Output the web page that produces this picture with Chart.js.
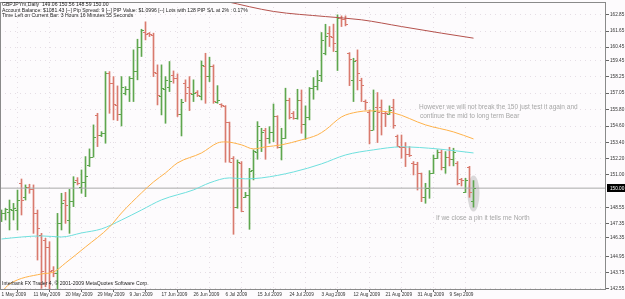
<!DOCTYPE html>
<html>
<head>
<meta charset="utf-8">
<script src="https://cdn.jsdelivr.net/npm/chart.js@4.4.0/dist/chart.umd.min.js"></script>
<style>
html, body { margin: 0; padding: 0; background: #fdfbfd; }
</style>
</head>
<body>
<canvas id="ohlcChart" width="625" height="299"></canvas>
<script>
// daily GBPJPY bars, 1 May 2009 .. mid Sep 2009 (Sunday bars included)
var opens = [147.76,148.13,148.26,148.38,148.38,150.41,149.37,150.06,149.91,148.13,
  146.53,146.15,145.66,143.93,143.73,147.44,149.12,147.64,149.05,150.61,
  150.11,150.48,151.72,152.34,155.43,153.94,154.12,158.52,157.78,156.17,
  155.48,157.04,157.33,158.15,158.72,160.50,161.61,161.49,161.36,158.52,
  156.84,157.33,157.53,158.40,158.15,155.50,157.78,157.53,156.99,157.16,
  156.86,159.02,158.32,159.02,156.42,156.24,156.10,154.88,152.21,148.63,
  151.84,149.37,149.49,151.35,152.71,153.57,154.32,153.70,154.19,155.35,
  153.08,153.72,156.54,155.55,155.18,156.54,154.76,155.30,157.41,157.58,
  158.40,160.00,161.49,161.24,160.20,162.60,162.53,160.00,158.03,159.51,
  158.03,156.49,155.68,154.32,156.05,156.05,155.60,155.48,156.05,153.87,
  153.08,153.08,152.53,151.84,151.79,151.10,149.37,149.99,151.10,152.21,
  152.71,151.60,152.34,152.14,151.84,150.66,149.74,151.60,149.06];
var highs = [148.38,148.50,149.12,148.87,149.86,150.68,150.24,150.29,150.24,148.38,
  146.65,146.28,146.03,144.18,148.13,149.62,149.69,149.91,150.85,150.78,
  151.35,152.34,152.91,154.69,155.55,154.19,158.64,158.64,158.27,157.58,
  158.27,157.53,158.27,160.25,161.04,161.78,162.33,161.54,161.49,159.14,
  159.14,158.27,159.39,158.69,158.47,156.59,158.03,158.27,158.03,157.23,
  159.43,160.00,159.71,159.14,157.60,156.26,156.12,154.90,152.34,152.09,
  151.97,149.69,151.47,152.84,154.93,154.44,154.44,154.56,156.24,155.37,
  154.44,157.41,156.67,155.68,157.33,157.28,156.10,157.46,158.20,158.72,
  161.54,162.15,161.98,162.16,162.85,162.77,162.77,160.05,159.63,160.25,
  158.15,156.54,155.80,157.28,157.09,156.54,155.68,156.10,156.59,153.94,
  153.94,153.38,153.08,151.97,151.92,151.12,150.36,151.30,152.46,152.84,
  152.84,152.71,153.03,152.96,151.97,150.73,150.73,151.62,150.56];
var lows = [147.52,147.64,146.90,147.64,146.90,148.01,149.12,149.62,146.65,144.67,
  142.57,142.69,142.50,143.43,142.48,146.90,147.39,146.65,148.63,150.24,
  149.62,149.37,151.60,152.30,153.08,153.82,153.33,155.55,155.06,155.01,
  154.61,156.91,156.42,156.42,158.03,159.76,160.99,161.24,158.27,156.17,
  155.43,154.81,157.16,157.78,155.31,153.87,156.42,155.75,156.42,156.79,
  156.54,156.29,157.90,156.29,156.29,156.00,151.92,151.92,146.58,148.51,
  148.26,149.30,146.95,150.61,152.14,152.71,152.14,153.33,153.45,152.96,
  152.09,153.68,155.13,155.11,155.11,154.07,153.62,155.06,156.59,157.28,
  157.90,159.88,160.50,160.13,158.72,161.98,162.03,157.60,156.42,157.28,
  156.42,155.80,153.28,154.30,153.38,153.94,154.56,155.46,154.44,153.08,
  152.22,151.60,152.34,150.98,149.86,149.00,148.88,149.25,151.08,152.19,
  151.35,151.10,151.65,151.65,150.24,150.16,149.67,149.32,148.59];
var closes = [148.13,148.43,148.43,148.50,149.12,149.12,150.06,149.91,148.13,147.02,
  143.88,145.66,143.88,143.73,147.44,148.87,148.75,149.05,150.48,150.36,
  150.48,150.93,152.34,153.82,153.94,154.07,158.57,157.83,156.22,155.48,
  157.53,157.33,158.15,158.72,160.50,161.69,161.41,161.41,158.64,156.91,
  157.41,158.03,157.95,158.15,155.50,156.42,157.04,157.04,157.08,156.91,
  159.14,158.32,159.02,156.49,156.54,156.17,154.93,151.97,148.58,151.92,
  148.31,149.49,151.30,152.76,154.61,154.19,153.70,154.19,155.35,153.08,
  153.72,156.54,155.25,155.18,156.54,154.76,155.30,157.41,157.58,158.03,
  161.00,161.29,161.29,160.79,162.60,162.53,162.18,159.56,159.39,158.57,
  157.65,156.42,154.32,155.75,155.68,155.55,155.55,155.80,154.69,153.13,
  153.03,152.53,152.46,151.77,151.10,149.37,149.99,151.10,152.21,152.71,
  151.60,152.34,152.14,152.71,150.41,150.61,150.61,149.74,150.00];

// moving averages, read at a few bars
var redMaIdx = [40, 56, 68, 81, 90, 100, 110, 118];
var redMaVal = [164.85, 163.85, 163.10, 162.72, 162.48, 161.98, 161.49, 161.12];
var orangeMaIdx = [0, 2, 10, 13, 16, 21, 27, 30, 35, 38, 41, 44, 50, 54, 56, 60, 63, 66, 70, 75, 79, 81, 85, 89, 92, 98, 106, 113, 118];
var orangeMaVal = [142.30, 142.89, 143.64, 143.78, 144.45, 145.64, 147.12, 148.16, 149.65, 150.46, 151.13, 151.87, 152.61, 153.35, 153.43, 153.21, 152.91, 153.06, 153.21, 153.58, 153.95, 154.32, 155.28, 155.65, 155.73, 155.58, 154.69, 154.17, 153.65];
var cyanMaIdx = [0, 5, 10, 15, 20, 25, 30, 35, 40, 48, 52, 57, 61, 65, 73, 80, 86, 93, 100, 109, 118];
var cyanMaVal = [146.23, 146.38, 146.46, 146.38, 146.68, 146.98, 147.64, 148.38, 149.13, 149.87, 150.39, 150.76, 150.69, 150.76, 151.20, 151.80, 152.46, 152.84, 153.06, 152.91, 152.61];

var dateTicks = [0, 8, 16, 24, 32, 40, 48, 56, 64, 72, 80, 88, 96, 104, 112];
var dateLabels = ['1 May 2009', '11 May 2009', '20 May 2009', '29 May 2009', '9 Jun 2009',
  '17 Jun 2009', '26 Jun 2009', '6 Jul 2009', '15 Jul 2009', '24 Jul 2009',
  '3 Aug 2009', '12 Aug 2009', '21 Aug 2009', '31 Aug 2009', '9 Sep 2009'];
var priceTicks = [162.85, 161.65, 160.45, 159.45, 158.25, 157.05, 155.80, 154.60, 153.40,
  152.20, 151.00, 148.55, 147.35, 146.35, 144.95, 143.75, 142.55];
var lastClose = 150.00;

var headerLines = [
  'GBPJPYm,Daily  149.06 150.56 148.59 150.00',
  'Account Balance: $1081.43 [--] Pip Spread: 9 [--] PIP Value: $1.0996 [--] Lots with 128 PIP S/L at 2% : 0.17%',
  'Time Left on Current Bar: 3 Hours 16 Minutes 55 Seconds'
];

var upColor = '#5ea64e';
var downColor = '#d97a6e';
var barColors = opens.map(function (o, i) { return closes[i] >= o ? upColor : downColor; });

function pts(idx, val) {
  return idx.map(function (x, k) { return { x: x, y: val[k] }; });
}

var xMin = -0.375, xMax = 151.125;

var bgPlugin = {
  id: 'bg',
  beforeDraw: function (chart) {
    var ctx = chart.ctx;
    ctx.save();
    ctx.fillStyle = '#fdfbfd';
    ctx.fillRect(0, 0, chart.width, chart.height);
    ctx.restore();
  },
  beforeDatasetsDraw: function (chart) {
    // grey highlight round the last bar
    var ctx = chart.ctx, x = chart.scales.x, y = chart.scales.y;
    ctx.save();
    ctx.fillStyle = 'rgba(205,205,205,0.75)';
    ctx.beginPath();
    ctx.ellipse(x.getPixelForValue(118), y.getPixelForValue(149.6), 6, 18, 0, 0, Math.PI * 2);
    ctx.fill();
    ctx.restore();
  }
};

var ohlcTicks = {
  id: 'ohlcTicks',
  afterDatasetsDraw: function (chart) {
    var x = chart.scales.x, y = chart.scales.y, ctx = chart.ctx;
    ctx.save();
    opens.forEach(function (o, i) {
      var px = Math.round(x.getPixelForValue(i) - 0.5);
      ctx.fillStyle = barColors[i];
      ctx.fillRect(px - 2, Math.round(y.getPixelForValue(o)), 2, 1);
      ctx.fillRect(px + 1, Math.round(y.getPixelForValue(closes[i])), 2, 1);
    });
    ctx.restore();
  }
};

var overlay = {
  id: 'overlay',
  afterDraw: function (chart) {
    var ctx = chart.ctx, a = chart.chartArea, y = chart.scales.y;
    ctx.save();
    // frame
    ctx.strokeStyle = '#8a8a8a';
    ctx.lineWidth = 1;
    ctx.strokeRect(a.left + 0.5, a.top + 0.5, a.right - a.left - 1, a.bottom - a.top - 1);

    ctx.textBaseline = 'middle';
    ctx.textAlign = 'left';
    ctx.fillStyle = '#222';
    ctx.font = '5.1px "Liberation Sans"';
    headerLines.forEach(function (t, k) { ctx.fillText(t, 2, 4.5 + k * 5.7); });
    ctx.fillText('Interbank FX Trader 4, \u00a9 2001-2009 MetaQuotes Software Corp.', 2, 284);

    ctx.fillStyle = '#a6a6a6';
    ctx.font = '6.5px "Liberation Sans"';
    ctx.fillText('However we will not break the 150 just test it again and', 419, 107);
    ctx.fillText('continue the mid to long term Bear', 420, 116);
    ctx.fillText('If we close a pin it tells me North', 436, 218);

    // current price box
    var py = Math.round(y.getPixelForValue(lastClose));
    ctx.fillStyle = '#000';
    ctx.fillRect(a.right + 1, py - 4, 625 - a.right - 1, 8);
    ctx.fillStyle = '#fff';
    ctx.font = '4.7px "Liberation Sans"';
    ctx.fillText(lastClose.toFixed(2), a.right + 4, py + 0.5);
    ctx.restore();
  }
};

var ctx = document.getElementById('ohlcChart').getContext('2d');
var chart = new Chart(ctx, {
  type: 'bar',
  data: {
    datasets: [{
      type: 'line',
      data: pts(redMaIdx, redMaVal),
      borderColor: '#b5524d',
      borderWidth: 1,
      pointRadius: 0,
      cubicInterpolationMode: 'monotone'
    }, {
      type: 'line',
      data: pts(orangeMaIdx, orangeMaVal),
      borderColor: '#ffb24a',
      borderWidth: 1,
      pointRadius: 0,
      cubicInterpolationMode: 'monotone'
    }, {
      type: 'line',
      data: pts(cyanMaIdx, cyanMaVal),
      borderColor: '#6fe0de',
      borderWidth: 1,
      pointRadius: 0,
      cubicInterpolationMode: 'monotone'
    }, {
      type: 'line',
      data: [{ x: xMin, y: lastClose }, { x: xMax, y: lastClose }],
      borderColor: '#a9a9a9',
      borderWidth: 1,
      pointRadius: 0
    }, {
      type: 'bar',
      data: opens.map(function (o, i) { return { x: i, y: [lows[i], highs[i]] }; }),
      backgroundColor: barColors,
      barThickness: 1,
      grouped: false
    }]
  },
  options: {
    responsive: false,
    animation: false,
    layout: { padding: { top: 2, left: 0, right: 0, bottom: 0 } },
    plugins: { legend: { display: false }, tooltip: { enabled: false } },
    scales: {
      x: {
        type: 'linear',
        min: xMin,
        max: xMax,
        offset: false,
        border: { display: false, dash: [1, 4] },
        grid: {
          color: 'rgba(200,185,200,0.45)',
          tickColor: '#666',
          tickLength: 2,
          drawOnChartArea: true
        },
        ticks: {
          autoSkip: false,
          maxRotation: 0,
          align: 'start',
          padding: 0,
          color: '#333',
          font: { family: 'Liberation Sans', size: 4.7 },
          callback: function (v, i) { return dateLabels[i]; }
        },
        afterBuildTicks: function (s) { s.ticks = dateTicks.map(function (v) { return { value: v }; }); },
        afterFit: function (s) { s.height = 9; s.paddingLeft = 0; s.paddingRight = 0; }
      },
      y: {
        position: 'right',
        min: 142.45,
        max: 163.8,
        border: { display: false, dash: [1, 4] },
        grid: {
          color: 'rgba(200,185,200,0.45)',
          tickColor: '#666',
          tickLength: 3
        },
        ticks: {
          padding: 1,
          color: '#333',
          font: { family: 'Liberation Sans', size: 4.7 },
          callback: function (v) { return v.toFixed(2); }
        },
        afterBuildTicks: function (s) { s.ticks = priceTicks.map(function (v) { return { value: v }; }); },
        afterFit: function (s) { s.width = 19; s.paddingTop = 0; s.paddingBottom = 0; }
      }
    }
  },
  plugins: [bgPlugin, ohlcTicks, overlay]
});
</script>
</body>
</html>
